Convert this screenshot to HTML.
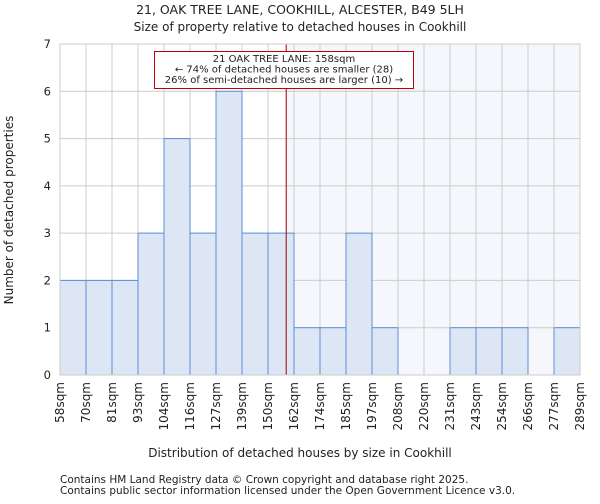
<!DOCTYPE html>
<html><head><meta charset="utf-8"><style>
body{margin:0;background:#fff;font-family:"DejaVu Sans","Liberation Sans",sans-serif;}
svg text{font-family:"DejaVu Sans","Liberation Sans",sans-serif;fill:#222;}
</style></head><body>
<svg id="chart" width="600" height="500">
<text x="300" y="14" text-anchor="middle" font-size="12.5">21, OAK TREE LANE, COOKHILL, ALCESTER, B49 5LH</text>
<text x="300" y="31" text-anchor="middle" font-size="12">Size of property relative to detached houses in Cookhill</text>
<g id="plot"></g>
<text x="300" y="457" text-anchor="middle" font-size="12">Distribution of detached houses by size in Cookhill</text>
<text transform="translate(13,210) rotate(-90)" text-anchor="middle" font-size="12">Number of detached properties</text>
<text x="60" y="483" font-size="10.5">Contains HM Land Registry data © Crown copyright and database right 2025.</text>
<text x="60" y="494" font-size="10.5">Contains public sector information licensed under the Open Government Licence v3.0.</text>
</svg>
<script>
const tickLabels=["58sqm","70sqm","81sqm","93sqm","104sqm","116sqm","127sqm","139sqm","150sqm","162sqm","174sqm","185sqm","197sqm","208sqm","220sqm","231sqm","243sqm","254sqm","266sqm","277sqm","289sqm"];
const counts=[2,2,2,3,5,3,6,3,3,1,1,3,1,0,0,1,1,1,0,1];
const yTicks=[0,1,2,3,4,5,6,7];
const propertyIndex=8.7;
const annotationLines=["21 OAK TREE LANE: 158sqm","← 74% of detached houses are smaller (28)","26% of semi-detached houses are larger (10) →"];
const NS="http://www.w3.org/2000/svg";
const L=60,R=580,T=44,B=375,yMax=7;
const n=counts.length;
const x=i=>L+(R-L)*i/n;
const y=v=>B-(B-T)*v/yMax;
const g=document.getElementById('plot');
function mk(tag,a){const e=document.createElementNS(NS,tag);for(const k in a)e.setAttribute(k,a[k]);g.appendChild(e);return e;}
const px=x(propertyIndex);
let e=mk('rect',{x:px,y:T,width:R-px,height:B-T,fill:'#f5f7fd'});


for(let i=0;i<=n;i++){e=mk('line',{x1:x(i),x2:x(i),y1:T,y2:B,stroke:'#cccccc','stroke-width':1});

}
yTicks.forEach(v=>{e=mk('line',{x1:L,x2:R,y1:y(v),y2:y(v),stroke:'#cccccc','stroke-width':1});


const t=mk('text',{x:L-9,y:y(v)+4,'text-anchor':'end','font-size':11.5});t.textContent=v;

});
counts.forEach((c,i)=>{if(c<=0)return;e=mk('rect',{x:x(i),y:y(c),width:x(i+1)-x(i),height:B-y(c),fill:'#dce6f4',stroke:'#5b8fd6','stroke-width':1});

});
tickLabels.forEach((lb,i)=>{const t=mk('text',{transform:`translate(${x(i)+4},382) rotate(-90)`,'text-anchor':'end','font-size':12});t.textContent=lb;

});
e=mk('line',{x1:px,x2:px,y1:T,y2:B,stroke:'#a00000','stroke-width':1});


e=mk('rect',{x:154.5,y:51.5,width:259,height:37,fill:'#fff',stroke:'#c00000','stroke-width':1});


annotationLines.forEach((s,k)=>{const t=mk('text',{x:284,y:62+k*10.5,'text-anchor':'middle','font-size':10});t.textContent=s;

});
e=mk('rect',{x:L,y:T,width:R-L,height:B-T,fill:'none',stroke:'#cccccc','stroke-width':1});


</script>
</body></html>
